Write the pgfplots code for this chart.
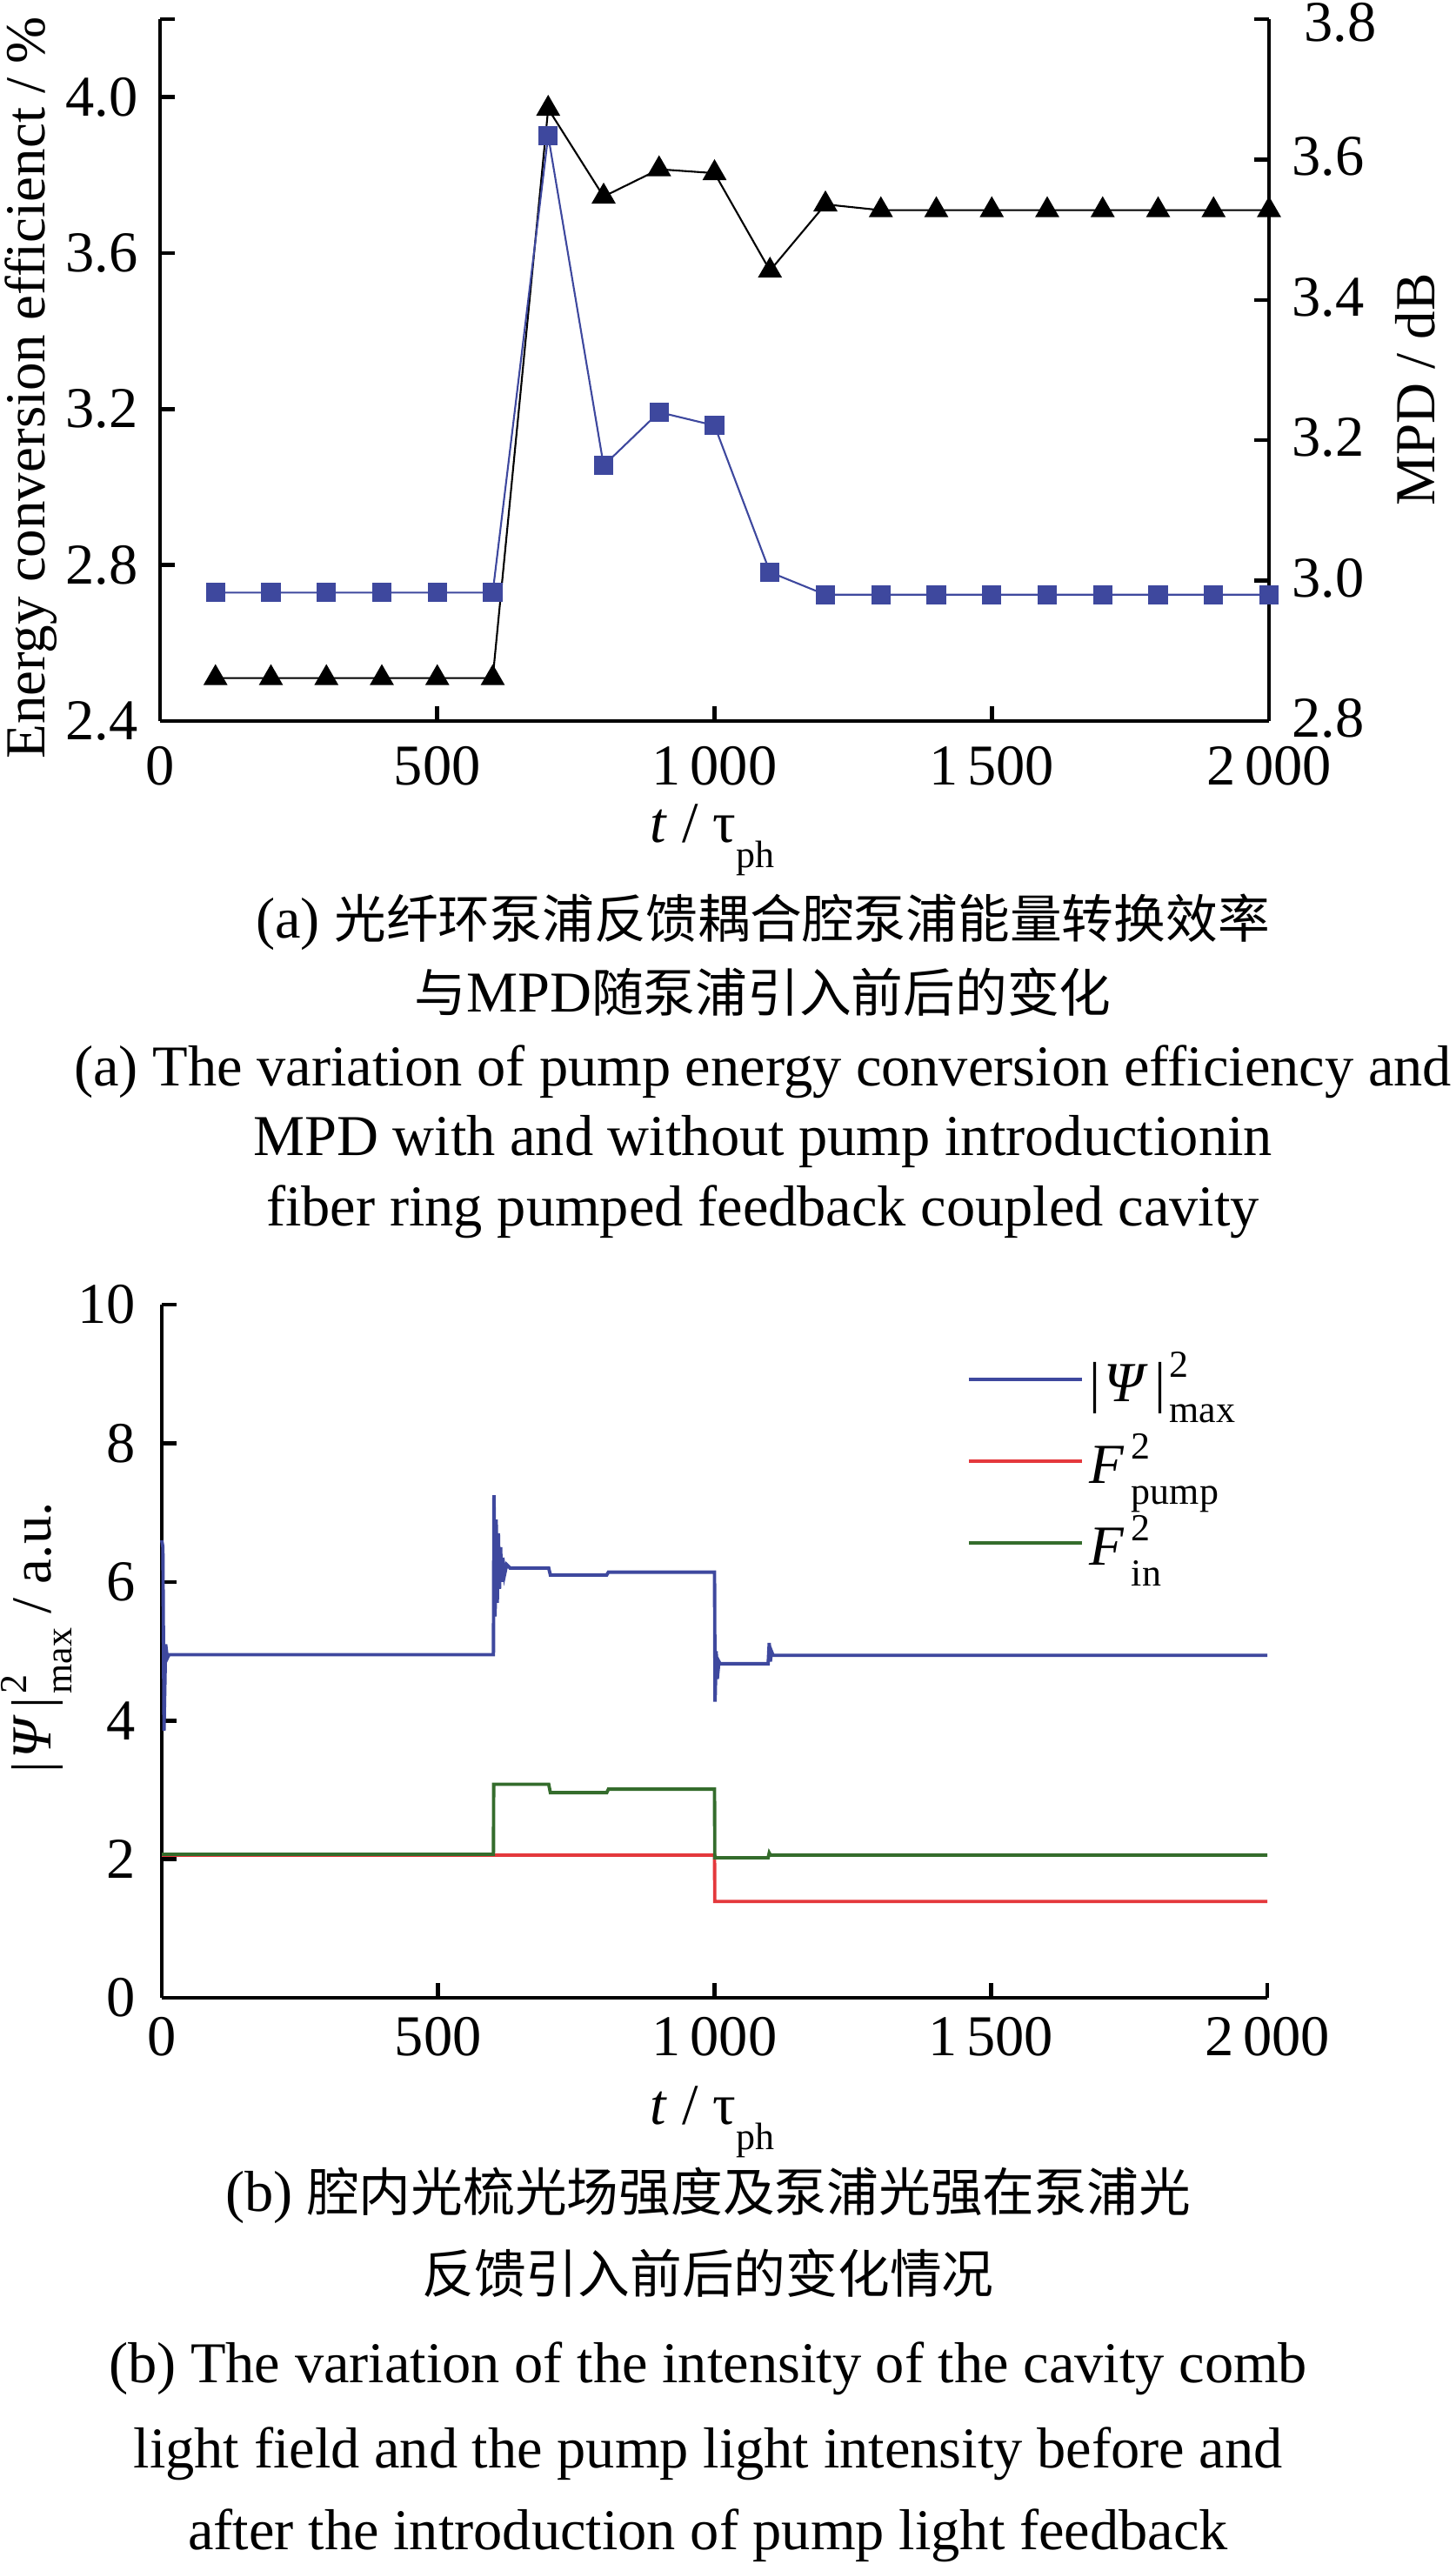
\documentclass[border=0pt]{standalone}
\usepackage{fontspec}
\usepackage{amsmath}
\usepackage{pgfplots}
\pgfplotsset{compat=1.18}
\setmainfont{Liberation Serif}
\newfontfamily\cjk{Noto Sans CJK SC}
\definecolor{myblue}{RGB}{62,72,158}
\definecolor{myred}{RGB}{228,56,60}
\definecolor{mygreen}{RGB}{52,108,44}
\newcommand\fs{\fontsize{18.5}{22}\selectfont}
\newcommand\tfs{\fontsize{18.9}{22}\selectfont}
\newcommand\cfs{\fontsize{17}{20}\selectfont}
\newcommand\sub[1]{\raisebox{-0.45em}{\fontsize{12.5}{13}\selectfont #1}}
\newcommand\supsub[2]{{\fontsize{12.5}{13}\selectfont\rlap{\raisebox{0.62em}{#1}}\raisebox{-0.56em}{#2}}}
\pgfplotsset{
  myaxis/.style={
    scale only axis, anchor=south west, clip=false,
    xmin=0, xmax=2000,
    axis line style={-, line width=1.3pt},
    tick align=inside, major tick length=0.17cm,
    tick style={line width=1.3pt, black},
    ticklabel style={font=\tfs, inner ysep=0pt},
    /pgf/number format/assume math mode=true,
  }
}
\begin{document}
\begin{tikzpicture}
\useasboundingbox (0,0) rectangle (16.73,-29.48);
% ---------------- top panel: left axis
\begin{axis}[myaxis,
  at={(1.84cm,-8.29cm)}, width=12.75cm, height=8.07cm,
  ymin=2.4, ymax=4.2,
  axis x line*=bottom, axis y line*=left,
  xtick={0,500,1000,1500,2000}, xticklabels={0,500,1\,000,1\,500,2\,000},
  xticklabel style={yshift=-0.29cm},
  ytick={2.4,2.8,3.2,3.6,4.0}, yticklabels={2.4,2.8,3.2,3.6,4.0},
  yticklabel style={xshift=-0.13cm},
  extra y ticks={4.2}, extra y tick labels={},
  extra y tick style={tick align=inside, major tick length=0.17cm},
]
\addplot[black, line width=0.6pt, mark=triangle*, mark size=0.14cm, mark options={solid, fill=black}] coordinates {
 (100,2.51) (200,2.51) (300,2.51) (400,2.51) (500,2.51) (600,2.51)
 (700,3.97) (800,3.745) (900,3.815) (1000,3.805) (1100,3.555) (1200,3.725)
 (1300,3.71) (1400,3.71) (1500,3.71) (1600,3.71) (1700,3.71) (1800,3.71) (1900,3.71) (2000,3.71)};
\end{axis}
% ---------------- top panel: right axis
\begin{axis}[myaxis,
  at={(1.84cm,-8.29cm)}, width=12.75cm, height=8.07cm,
  ymin=2.8, ymax=3.8,
  axis x line=none, axis y line*=right,
  ytick={2.8,3.0,3.2,3.4,3.6}, yticklabels={2.8,3.0,3.2,3.4,3.6},
  yticklabel style={xshift=0.14cm, yshift=0.03cm},
  extra y ticks={3.8}, extra y tick labels={3.8},
  extra y tick style={tick align=inside, major tick length=0.17cm,
    yticklabel style={xshift=0.14cm, yshift=-0.07cm}},
]
\addplot[myblue, line width=0.6pt, mark=square*, mark size=0.1cm, mark options={solid, fill=myblue}] coordinates {
 (100,2.983) (200,2.983) (300,2.983) (400,2.983) (500,2.983) (600,2.983)
 (700,3.634) (800,3.164) (900,3.240) (1000,3.221) (1100,3.012) (1200,2.98)
 (1300,2.98) (1400,2.98) (1500,2.98) (1600,2.98) (1700,2.98) (1800,2.98) (1900,2.98) (2000,2.98)};
\end{axis}
\node[rotate=90, anchor=base] at (0.52,-4.46) {\fs Energy conversion efficienct / \%};
\node[rotate=90, anchor=base] at (16.49,-4.48) {\fs MPD / dB};
\node[anchor=base] at (8.19,-9.68) {\tfs\textit{t} / τ\sub{ph}};
% captions (a)
\node[anchor=base] at (8.77,-10.78) {\tfs (a) {\cjk\cfs 光纤环泵浦反馈耦合腔泵浦能量转换效率}};
\node[anchor=base] at (8.77,-11.63) {\tfs {\cjk\cfs 与}MPD{\cjk\cfs 随泵浦引入前后的变化}};
\node[anchor=base] at (8.77,-12.48) {\tfs (a) The variation of pump energy conversion efficiency and};
\node[anchor=base] at (8.77,-13.28) {\tfs MPD with and without pump introductionin};
\node[anchor=base] at (8.77,-14.09) {\tfs fiber ring pumped feedback coupled cavity};
% ---------------- bottom panel
\begin{axis}[myaxis,
  at={(1.86cm,-22.97cm)}, width=12.71cm, height=7.97cm,
  ymin=0, ymax=10,
  axis x line*=bottom, axis y line*=left,
  xtick={0,500,1000,1500,2000}, xticklabels={0,500,1\,000,1\,500,2\,000},
  xticklabel style={yshift=-0.22cm},
  ytick={0,2,4,6,8,10}, yticklabels={0,2,4,6,8,10},
  yticklabel style={xshift=-0.18cm},
  legend style={at={(0.728,0.918)}, anchor=north west, draw=none, fill=none,
    inner sep=0pt, column sep=0.07cm, row sep=0.1cm,
    nodes={inner sep=0pt, anchor=base west, text height=0.45cm, text depth=0.39cm, font=\fs}},
  legend cell align=left,
  legend image code/.code={\draw[#1] (0cm,0.25cm) -- (1.3cm,0.25cm);},
]
\addplot[myblue, line width=1.1pt] coordinates {
 (0,6.6) (2,6.5) (4,3.85) (7,5.1) (10,4.9) (13,4.95)
 (600,4.95) (601,7.25) (603,5.5) (605,6.9) (607,5.7) (609,6.7) (611,5.9) (613,6.5)
 (615,6.0) (617,6.35) (620,6.1) (624,6.25) (630,6.2)
 (700,6.2) (703,6.1) (805,6.1) (808,6.14) (1000,6.14)
 (1001,4.27) (1003,5.0) (1005,4.6) (1008,4.85) (1010,4.82)
 (1097,4.82) (1099,5.12) (1101,4.85) (1103,5.0) (1106,4.94) (2000,4.94)};
\addlegendentry{|\kern0.05em\textit{Ψ}\kern0.12em|\kern0.06em\supsub{2}{max}}
\addplot[myred, line width=1.1pt] coordinates {
 (0,2.06) (1000,2.06) (1000.5,1.39) (2000,1.39)};
\addlegendentry{\textit{F}\kern0.12em\supsub{2}{pump}}
\addplot[mygreen, line width=1.1pt] coordinates {
 (0,2.07) (600,2.07) (600.5,3.08) (700,3.08) (703,2.96) (805,2.96) (808,3.01) (1000,3.01)
 (1000.5,2.02) (1097,2.02) (1099,2.09) (1101,2.06) (2000,2.06)};
\addlegendentry{\textit{F}\kern0.12em\supsub{2}{in}}
\end{axis}
\node[rotate=90, anchor=base] at (0.58,-18.83) {\fs |\kern0.05em\textit{Ψ}\kern0.12em|\kern0.06em\supsub{2}{max} / a.u.};
\node[anchor=base] at (8.19,-24.42) {\tfs\textit{t} / τ\sub{ph}};
% captions (b)
\node[anchor=base] at (8.14,-25.42) {\tfs (b) {\cjk\cfs 腔内光梳光场强度及泵浦光强在泵浦光}};
\node[anchor=base] at (8.14,-26.36) {\cjk\cfs 反馈引入前后的变化情况};
\node[anchor=base] at (8.14,-27.39) {\tfs (b) The variation of the intensity of the cavity comb};
\node[anchor=base] at (8.14,-28.37) {\tfs light field and the pump light intensity before and};
\node[anchor=base] at (8.14,-29.31) {\tfs after the introduction of pump light feedback};
\end{tikzpicture}
\end{document}
